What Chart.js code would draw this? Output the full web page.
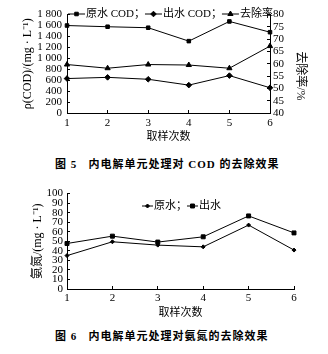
<!DOCTYPE html>
<html>
<head>
<meta charset="utf-8">
<script src="https://cdn.jsdelivr.net/npm/chart.js@4.4.0/dist/chart.umd.min.js"></script>
<style>
  body { margin: 0; background: #fff; width: 328px; height: 354px; position: relative; overflow: hidden; }
  .box { position: absolute; left: 0; width: 328px; }
  .cap { position: absolute; left: 55px; white-space: nowrap; font: bold 11px 'Liberation Serif', 'Noto Sans CJK SC', serif; letter-spacing: 1px; color: #000; }
</style>
</head>
<body>
<div class="box" style="top:0;height:145px"><canvas id="codChart"></canvas></div>
<div class="cap" style="top:155px">图 5&nbsp;&nbsp; 内电解单元处理对 COD 的去除效果</div>
<div class="box" style="top:180px;height:145px"><canvas id="nhChart"></canvas></div>
<div class="cap" style="top:327px">图 6&nbsp;&nbsp; 内电解单元处理对氨氮的去除效果</div>
<script>
// sampling runs
const samples = ['1', '2', '3', '4', '5', '6'];

// Fig 5: COD (mg/L) and removal rate (%)
const codIn = [1600, 1578, 1560, 1315, 1675, 1478];
const codOut = [630, 652, 617, 510, 684, 462];
const codRemoval = [59.7, 58.2, 59.7, 59.5, 58.2, 67.2];
const codTicks = [0, 200, 400, 600, 800, 1000, 1200, 1400, 1600, 1800];
const removalTicks = [40, 45, 50, 55, 60, 65, 70, 75, 80];

// Fig 6: ammonia nitrogen (mg/L)
const nhIn = [35, 49.5, 46, 44.2, 67, 40.8];
const nhOut = [47.7, 55.4, 49.2, 54.7, 76.6, 58.8];
const nhTicks = [0, 10, 20, 30, 40, 50, 60, 70, 80, 90, 100];

Chart.defaults.font.family = "'Liberation Serif', 'Noto Sans CJK SC', serif";
Chart.defaults.font.size = 11;
Chart.defaults.color = '#000';

// legend drawn as  —■—label；  like the paper figure
const lineLegend = {
  id: 'lineLegend',
  afterDraw(chart, args, opts) {
    const ctx = chart.ctx;
    const sets = chart.data.datasets;
    let x = opts.x;
    const y = opts.y;
    ctx.save();
    ctx.font = opts.font;
    ctx.textBaseline = 'middle';
    ctx.strokeStyle = '#000';
    ctx.fillStyle = '#000';
    ctx.lineWidth = 1;
    sets.forEach((ds, i) => {
      ctx.beginPath();
      ctx.moveTo(x, y);
      ctx.lineTo(x + opts.lineLen, y);
      ctx.stroke();
      Chart.helpers.drawPoint(ctx, { pointStyle: ds.pointStyle, radius: ds.pointRadius, borderWidth: 1 }, x + opts.lineLen / 2, y);
      x += opts.lineLen + 1;
      const txt = ds.label + (i < sets.length - 1 ? '；' : '');
      ctx.fillText(txt, x, y);
      x += ctx.measureText(txt).width;
    });
    ctx.restore();
  }
};

function axisGrid() {
  return { drawOnChartArea: false, color: '#000', tickLength: -3, lineWidth: 1 };
}

function fixedTicks(list) {
  return (axis) => { axis.ticks = list.map(v => ({ value: v })); };
}

function spaced(v) {
  return v >= 1000 ? String(v).replace(/(\d)(\d{3})$/, '$1 $2') : String(v);
}

function line(label, data, style, r, axisId) {
  return {
    label: label,
    data: data,
    yAxisID: axisId || 'y',
    borderColor: '#000',
    backgroundColor: '#000',
    borderWidth: 1,
    pointStyle: style,
    pointRadius: r,
    pointBorderWidth: 1,
    tension: 0
  };
}

new Chart(document.getElementById('codChart'), {
  type: 'line',
  data: {
    labels: samples,
    datasets: [
      line('原水 COD', codIn, 'rect', 2.5),
      line('出水 COD', codOut, 'rectRot', 2.8),
      line('去除率', codRemoval, 'triangle', 3, 'y1')
    ]
  },
  options: {
    animation: false,
    responsive: true,
    maintainAspectRatio: false,
    layout: { padding: { top: 13, left: 0, right: 0, bottom: 0 } },
    plugins: {
      legend: { display: false },
      tooltip: { enabled: false },
      lineLegend: { x: 68, y: 14, lineLen: 17, font: "11px 'Liberation Serif', 'Noto Sans CJK SC'" }
    },
    scales: {
      x: {
        offset: false,
        grid: axisGrid(),
        border: { color: '#000' },
        ticks: { padding: 7, maxRotation: 0, autoSkip: false },
        title: { display: true, text: '取样次数', padding: { top: 0, bottom: 1 } },
        afterFit(s) { s.height = 32; }
      },
      y: {
        min: 0,
        max: 1800,
        afterBuildTicks: fixedTicks(codTicks),
        grid: axisGrid(),
        border: { color: '#000' },
        ticks: { padding: 8, autoSkip: false, callback: spaced },
        title: { display: true, text: 'ρ(COD)/(mg · L⁻¹)', font: { size: 12 }, padding: { top: 21, bottom: 0 } },
        afterFit(s) { s.width = 67; }
      },
      y1: {
        position: 'right',
        min: 40,
        max: 80,
        afterBuildTicks: fixedTicks(removalTicks),
        grid: axisGrid(),
        border: { color: '#000' },
        ticks: { padding: 6, autoSkip: false },
        // leading ideographic spaces push the title a little lower, as in the figure
        title: { display: true, text: '\u3000\u3000去除率/%', font: { size: 12 }, padding: { top: 21, bottom: 0 } },
        afterFit(s) { s.width = 58; }
      }
    }
  },
  plugins: [lineLegend]
});

new Chart(document.getElementById('nhChart'), {
  type: 'line',
  data: {
    labels: samples,
    datasets: [
      line('原水', nhIn, 'rectRot', 2),
      line('出水', nhOut, 'rect', 2.8)
    ]
  },
  options: {
    animation: false,
    responsive: true,
    maintainAspectRatio: false,
    layout: { padding: { top: 13, left: 0, right: 34, bottom: 0 } },
    plugins: {
      legend: { display: false },
      tooltip: { enabled: false },
      lineLegend: { x: 142, y: 26, lineLen: 11, font: "11px 'Liberation Serif', 'Noto Sans CJK SC'" }
    },
    scales: {
      x: {
        offset: false,
        grid: axisGrid(),
        border: { color: '#000' },
        ticks: { padding: 6, maxRotation: 0, autoSkip: false },
        title: { display: true, text: '取样次数', padding: { top: 0, bottom: 5 } },
        afterFit(s) { s.height = 36; }
      },
      y: {
        min: 0,
        max: 100,
        afterBuildTicks: fixedTicks(nhTicks),
        grid: axisGrid(),
        border: { color: '#000' },
        ticks: { padding: 7, autoSkip: false },
        title: { display: true, text: '氨氮/(mg · L⁻¹)', font: { size: 12 }, padding: { top: 31, bottom: 0 } },
        afterFit(s) { s.width = 67; }
      }
    }
  },
  plugins: [lineLegend]
});
</script>
</body>
</html>
